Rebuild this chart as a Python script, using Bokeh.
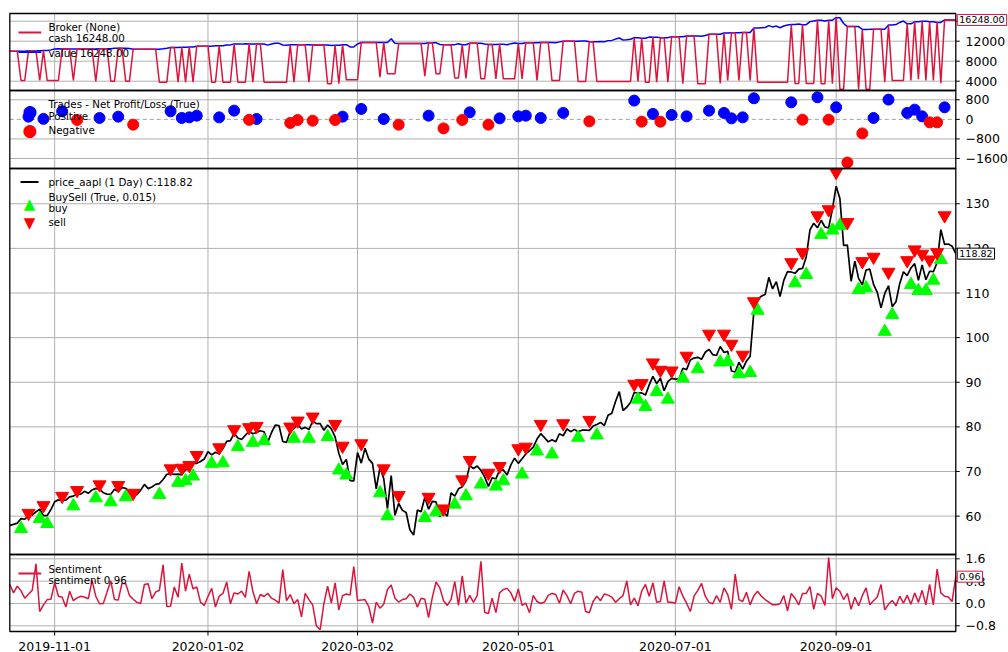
import numpy as np
from bokeh.plotting import figure
from bokeh.models import Range1d, Label, BoxAnnotation
from bokeh.core.properties import value
from bokeh.embed import file_html
from bokeh.resources import INLINE

FONT = "DejaVu Sans"
CRIMSON = "#dc143c"
GRID = "#b0b0b0"

# ---------------- data ----------------
tick_idx = [12, 53, 93, 136, 178, 221]
tick_labels = ["2019-11-01", "2020-01-02", "2020-03-02", "2020-05-01", "2020-07-01", "2020-09-01"]

close = [57.92, 58.14, 58.42, 59.44, 59.30, 60.10, 60.20, 60.94, 61.54, 60.12, 60.12, 61.47, 63.22, 63.64, 63.54, 63.57,
         64.30, 64.48, 64.99, 64.93, 65.55, 65.10, 65.87, 66.21, 66.00, 65.24,
         64.94, 64.89, 66.02, 65.50, 66.39, 66.24, 65.47, 64.30, 64.88, 65.83,
         67.10, 66.16, 66.54, 67.11, 67.29, 68.20, 69.37, 69.50, 69.34, 69.41,
         69.26, 70.39, 70.46, 71.86, 71.83, 72.26, 72.78,
         74.45, 73.72, 74.31, 73.96, 75.15, 76.75, 76.92, 78.56, 77.50, 77.16,
         78.13, 79.00, 78.46, 78.75, 79.13, 78.90, 76.58, 78.74, 80.38, 80.28,
         76.72, 76.51, 79.03, 79.67, 80.60,
         79.51, 79.89, 79.40, 81.29, 80.72, 80.74, 79.25, 80.40, 79.57, 77.77,
         74.08, 71.57, 72.71, 67.96, 67.92, 74.24, 71.88, 75.21, 72.78, 71.81,
         66.13, 70.89, 68.43, 61.67, 69.06, 60.17, 62.83, 61.29, 60.82, 56.95,
         55.74, 61.34, 61.00, 64.21, 61.56, 63.30, 63.18, 59.86, 60.85, 59.98,
         65.21, 64.46, 66.11, 66.58, 67.89, 71.31, 70.67, 71.23, 70.26, 68.80,
         66.67, 68.60, 68.33, 70.30, 70.35, 69.21, 71.48, 72.99, 71.82, 72.84,
         73.93, 74.69, 75.46,
         77.26, 78.47, 77.58, 76.64, 77.12, 76.66, 78.46, 78.01, 79.53, 78.93,
         79.44, 78.90, 79.25, 79.28, 79.21, 80.18, 80.55, 81.00, 80.30, 82.59,
         83.07, 85.69, 87.90, 83.67, 84.40, 85.45, 87.71, 87.59, 87.62, 87.12,
         89.40, 91.31, 89.69, 90.89, 88.10, 90.13, 90.88, 90.71, 90.71, 93.13,
         92.84, 95.00, 95.41, 95.58, 95.14, 96.72, 97.38, 96.18, 95.99, 98.01,
         96.66, 96.93, 92.52, 92.29, 94.48, 92.92, 94.71, 95.85, 105.89, 108.56,
         109.28, 109.67, 113.50,
         110.92, 112.54, 109.19, 112.82, 114.81, 114.71, 114.41, 115.36, 115.51, 118.08,
         124.16, 125.64, 124.61, 126.30, 124.79, 124.60, 128.82, 133.95, 131.17, 120.67,
         120.75, 112.63, 117.12, 113.29, 111.81, 115.16, 115.34, 111.94, 110.15, 106.66,
         109.89, 111.62, 106.94, 108.03, 112.09, 114.76, 113.89, 115.61, 116.59, 112.83,
         116.30, 112.97, 114.88, 114.77, 116.77, 124.19, 120.89, 120.98, 120.50, 118.82]

sentiment = [0.68, 0.38, 0.62, 0.45, 0.19, 0.33, 0.47, 1.42, -0.29, -0.05,
             0.14, 0.15, 0.74, 0.26, 0.22, -0.13, 0.44, 0.10, 0.20, 0.26,
             0.22, 0.17, 0.83, 0.26, -0.01, 0.00, 0.40, 0.81, 0.14, 0.12,
             0.72, 0.71, 0.29, 0.15, 0.04, 0.00, 0.68, 0.71, 0.17, 0.41,
             0.47, 1.38, -0.11, -0.10, 0.59, 0.22, 1.45, 0.44, 1.05, 0.52,
             0.59, 0.05, -0.07, 0.25, 0.54, -0.13, 0.26, 0.36, 0.77, -0.01,
             0.38, 0.34, 0.44, 0.22, 1.15, 0.44, -0.01, 0.32, 0.25, 0.36,
             0.19, 0.12, 0.01, 1.21, 0.10, 0.32, -0.01, 0.14, -0.48, 0.36,
             0.14, -0.05, -0.81, -0.94, -0.01, 0.62, 0.01, 0.74, -0.23,
             0.28, 0.34, 0.30, 1.32, 0.11, 0.12, 0.14, -0.11, -0.70, 0.05,
             -0.17, -0.03, 0.50, 0.66, 0.19, 0.05, 0.14, 0.17, 0.34, 0.22,
             -0.13, 0.19, 0.15, -0.51, 0.22, 0.77, 0.56, 0.10, -0.07, 0.14,
             0.78, -0.07, 0.99, 0.01, 0.29, 0.04, 0.28, 1.51, -0.32, -0.36,
             0.19, -0.33, 0.38, 0.50, 0.54, 0.38, 0.07, 0.52, -0.07, 0.01,
             -0.33, 0.29, 0.07, 0.00, 0.05, 0.29, 0.36, 0.32, 0.01, 0.48,
             0.28, -0.01, 0.36, 0.44, 0.40, -0.29, -0.33, 0.07, 0.26, 0.10,
             0.34, 0.30, 0.23, 0.04, 0.17, 0.28, 0.81, -0.05, 0.19, -0.08,
             0.44, 0.68, 0.26, 0.74, 0.04, 0.07, 0.81,
             0.04, 0.04, 0.01, 0.60, 0.26, 0.01, -0.29, 0.26, 0.47, 0.72,
             0.26, 0.04, -0.01, 0.28, 0.04, 0.56, 0.32, -0.21, 1.05, 0.14,
             0.07, 0.40, -0.05, 0.28, 0.44, 0.26, 0.14, 0.05, -0.05, -0.05,
             -0.01, 0.28, -0.26, 0.36, 0.19, -0.05, 0.36, 0.36, 0.60, -0.21,
             0.36, 0.26, -0.07, 1.64, 0.17, 0.56, 0.44, 0.14, 0.36, -0.21,
             0.22, -0.08, 0.28, 0.56, -0.05, 0.10, 0.23, 0.68, -0.23, -0.03,
             0.11, -0.08, 0.26, 0.01, 0.29, -0.03, 0.38, 0.04, 0.47, -0.05,
             0.68, -0.05, 1.23, 0.38, 0.26, 0.23, 0.07, 0.96]

buy_idx = [3, 8, 10, 17, 23, 27, 31, 40, 45, 47, 49, 54, 57, 61, 65, 68, 76, 80, 85, 88,
           90, 99, 101, 111, 114, 119, 122, 126, 130, 132, 137, 141, 145, 152, 157, 168, 170, 173, 176, 180,
           184, 190, 192, 195, 198, 200, 210, 213, 217, 220, 222, 227, 229, 234, 236, 241, 243, 245, 247, 249]
buy_mark = [57.17, 59.42, 58.29, 62.25, 64.04, 63.15, 64.27, 64.81, 67.51, 67.87, 68.92, 71.78, 71.91, 75.51, 76.49,
            76.85, 77.39, 77.39, 77.75, 70.27, 69.15, 65.17, 60.00, 59.64, 60.90, 62.63, 64.49, 67.12, 66.67, 67.87,
            69.37, 74.54, 73.87, 77.62, 78.13, 86.16, 84.49, 87.87, 86.16, 90.88, 92.97, 94.47, 94.61, 91.84, 92.13,
            106.07, 112.22, 114.09, 123.08, 124.04, 125.10, 110.72, 111.10, 101.35, 105.10, 111.84, 110.49, 110.49,
            112.81, 117.46]
sell_idx = [5, 9, 14, 18, 24, 29, 33, 43, 46, 48, 50, 56, 60, 64, 66, 75, 77, 81, 87, 89,
            94, 100, 104, 112, 116, 121, 123, 128, 131, 136, 138, 142, 148, 155, 167, 169, 172, 174, 177, 181,
            187, 191, 193, 196, 199, 209, 212, 216, 219, 221, 224, 228, 231, 235, 240, 242, 244, 246, 248, 250]
sell_mark = [60.67, 62.40, 64.49, 65.78, 67.06, 66.90, 65.17, 70.65, 70.79, 71.39, 73.64, 75.37, 79.42, 79.87, 80.16,
             80.00, 81.35, 82.25, 80.61, 75.73, 76.27, 70.65, 64.65, 64.27, 61.66, 68.18, 72.52, 69.66, 71.17, 75.15,
             75.51, 80.61, 80.76, 81.51, 89.60, 89.75, 94.38, 92.74, 92.58, 95.89, 100.83, 100.83, 98.58, 96.11,
             108.09, 116.85, 119.10, 127.35, 128.70, 137.08, 125.84, 117.08, 118.07, 114.70, 117.30, 119.71, 118.74,
             117.46, 119.10, 127.35]
trade_pnl = [111, 20, 330, -25, 57, 111, -217, 332, 57, 82, 152, 82, 357, -20, 16, -148, -25, -53, -25, 111,
             427, 16, -217, 152, -369, -25, 287, -217, 41, 123, 152, 57, 263, -82, 767, -94, 222, -94, 181, 123,
             357, 263, 41, 82, 862, 697, -12, 903, -12, 492, -1764, -574, 57, 808, 263, 398, 123, -123, -123, 492]
cash_low = [4140, 4140, 4140, 4140, 3940, 4000, 4000, 3800, 3800, 3800, 3800, 3800, 3800, 3800, 3800, 3800, 3800,
            3800, 3480, 3480, 4280, 4800, 5480, 5000, 5480, 4640, 4540, 4470, 4470, 4470, 4470, 4140, 4140, 3940,
            3940, 3940, 3800, 3800, 3800, 3480, 3480, 3540, 4140, 4140, 4140, 3800, 3540, 3540, 3480, 3480, 2380,
            2380, 2380, 3800, 4140, 4140, 4400, 4140, 4140, 3600]
start_cash = 10000.0

broker_ticks = [4000, 8000, 12000, 16000]
broker_labels = ["4000", "8000", "12000", ""]
trades_ticks = [800, 0, -800, -1600]
trades_labels = ["800", "0", "\u2212800", "\u22121600"]
price_ticks = [60, 70, 80, 90, 100, 110, 120, 130]
price_labels = ["60", "70", "80", "90", "100", "110", "120", "130"]
sent_ticks = [1.6, 0.8, 0.0, -0.8]
sent_labels = ["1.6", "0.8", "0.0", "\u22120.8"]

# ---------------- broker (cash / value) from the trades ----------------
n = len(close)
x = list(range(n))
cash = np.zeros(n)
val = np.zeros(n)
level = start_cash
pos = None
k = 0
for i in range(n):
    if pos is not None and i == sell_idx[k]:
        level += trade_pnl[k]
        pos = None
        k += 1
    if pos is None and k < len(buy_idx) and i == buy_idx[k]:
        pos = (cash_low[k], (level - cash_low[k]) / close[i])
    if pos is None:
        cash[i] = level
        val[i] = level
    else:
        cash[i] = pos[0]
        val[i] = pos[0] + pos[1] * close[i]

# ---------------- layout geometry (canvas pixels, y downward) ----------------
W, H = 1008, 652
XEND = n - 1
LEFT_PX, RIGHT_PX = 9.3, 955.3
ppb = (RIGHT_PX - LEFT_PX) / XEND
XS = -LEFT_PX / ppb
XE = XEND + (W - RIGHT_PX) / ppb

panels = {
    #          top  bottom  value@top value@bottom
    "broker": (13, 90, 17540.0, 2140.0),
    "trades": (90, 168, 1180.0, -2009.0),
    "price": (168, 554, 137.9, 51.4),
    "sent": (554, 631, 1.754, -1.004),
}


def full_range(ctop, cbot, dtop, dbot):
    per = (dtop - dbot) / (cbot - ctop)
    return Range1d(dbot - (H - cbot) * per, dtop + ctop * per)


p = figure(width=W, height=H, x_range=Range1d(XS, XE), y_range=Range1d(H, 0),
           output_backend="svg", toolbar_location=None,
           x_axis_location=None, y_axis_location=None,
           min_border_left=0, min_border_right=0, min_border_top=0, min_border_bottom=0)
p.outline_line_color = None
p.background_fill_color = "white"
p.border_fill_color = "white"
p.grid.grid_line_color = None
p.extra_y_ranges = {k_: full_range(*v) for k_, v in panels.items()}

# vertical grid lines through all panels
p.segment(x0=tick_idx, x1=tick_idx, y0=[panels["broker"][0]] * len(tick_idx),
          y1=[panels["sent"][1]] * len(tick_idx), line_color=GRID, line_width=1)


def hgrid(name, ticks):
    p.segment(x0=[0] * len(ticks), x1=[XEND] * len(ticks), y0=ticks, y1=ticks,
              y_range_name=name, line_color=GRID, line_width=1)


def yaxis(name, ticks, labels):
    p.segment(x0=[XEND] * len(ticks), x1=[XEND + 4 / ppb] * len(ticks), y0=ticks, y1=ticks,
              y_range_name=name, line_color="black", line_width=1)
    p.text(x=[XEND + 9.7 / ppb] * len(ticks), y=ticks, text=labels, y_range_name=name,
           text_font=value(FONT), text_font_size="12.5px", text_color="black",
           text_baseline="middle", text_align="left")


def spines(name):
    top, bot, dtop, dbot = panels[name]
    p.add_layout(BoxAnnotation(left=0, right=XEND, top=dtop, bottom=dbot, y_range_name=name,
                               fill_alpha=0, fill_color=None, line_color="black",
                               line_alpha=1, line_width=1.3))


def txt(cx, cy, text, color="black", size="10.3px", align="left"):
    p.add_layout(Label(x=cx, y=H - cy, x_units="screen", y_units="screen", text=text,
                       text_font=FONT, text_font_size=size, text_color=color,
                       text_baseline="middle", text_align=align))


def swatch(cy, color, x0=18, x1=40.7, lw=1.8):
    p.add_layout(BoxAnnotation(left=x0, right=x1, top=H - cy + lw / 2, bottom=H - cy - lw / 2,
                               left_units="screen", right_units="screen",
                               top_units="screen", bottom_units="screen",
                               fill_color=color, fill_alpha=1, line_alpha=0))


def lastbox(name, yv, text, color):
    p.add_layout(Label(x=XEND + 1.5 / ppb, y=yv, y_range_name=name, text=text,
                       text_font=FONT, text_font_size="9.5px", text_color="black",
                       text_baseline="middle", text_align="left",
                       background_fill_color="white", border_line_color=color,
                       border_line_width=1, padding=2))


# --- grids ---
hgrid("broker", broker_ticks)
hgrid("trades", [t for t in trades_ticks if t != 0])
hgrid("price", price_ticks)
hgrid("sent", sent_ticks)
p.segment(x0=[0], x1=[XEND], y0=[0], y1=[0], y_range_name="trades",
          line_color="#a0a0a0", line_dash="4 3", line_width=1)

# --- Broker panel ---
p.line(x, val, y_range_name="broker", line_color="blue", line_width=1.5)
p.line(x, cash, y_range_name="broker", line_color=CRIMSON, line_width=1.5)

# --- Trades panel ---
pos_x = [s for s, v in zip(sell_idx, trade_pnl) if v >= 0]
pos_y = [v for v in trade_pnl if v >= 0]
neg_x = [s for s, v in zip(sell_idx, trade_pnl) if v < 0]
neg_y = [v for v in trade_pnl if v < 0]
p.scatter(pos_x, pos_y, y_range_name="trades", marker="circle", size=11, fill_color="blue", line_color="blue")
p.scatter(neg_x, neg_y, y_range_name="trades", marker="circle", size=11, fill_color="red", line_color="red")

# --- Price panel ---
p.line(x, close, y_range_name="price", line_color="black", line_width=1.7)
p.scatter(buy_idx, buy_mark, y_range_name="price", marker="triangle", size=13,
          fill_color="#00ff00", line_color="#00ff00")
p.scatter(sell_idx, sell_mark, y_range_name="price", marker="inverted_triangle", size=13,
          fill_color="red", line_color="red")

# --- Sentiment panel ---
p.line(x, sentiment, y_range_name="sent", line_color=CRIMSON, line_width=1.5)

# --- axes (right side) ---
yaxis("broker", broker_ticks, broker_labels)
yaxis("trades", trades_ticks, trades_labels)
yaxis("price", price_ticks, price_labels)
yaxis("sent", sent_ticks, sent_labels)

# --- x axis (bottom) ---
sb = panels["sent"][1]
p.segment(x0=tick_idx, x1=tick_idx, y0=[sb] * len(tick_idx), y1=[sb + 4] * len(tick_idx),
          line_color="black", line_width=1)
p.text(x=tick_idx, y=[sb + 14.5] * len(tick_idx), text=tick_labels,
       text_font=value(FONT), text_font_size="12.5px", text_color="black",
       text_baseline="middle", text_align="center")

for name in panels:
    spines(name)

# --- legends ---
txt(48, 26, "Broker (None)")
txt(48, 37.7, "cash %.2f" % cash[-1])
txt(48, 52, "value %.2f" % val[-1])
swatch(32, CRIMSON)
swatch(51.7, "blue")

txt(48, 103.7, "Trades - Net Profit/Loss (True)")
txt(48, 115.7, "Positive")
txt(48, 129.3, "Negative")
txt(29.3, 110, "\u25cf", color="blue", size="17px", align="center")
txt(29.3, 129.3, "\u25cf", color="red", size="17px", align="center")

swatch(181.5, "black", x0=20, x1=38)
txt(48, 181, "price_aapl (1 Day) C:%.2f" % close[-1])
txt(48, 196, "BuySell (True, 0.015)")
txt(48, 207.5, "buy")
txt(48, 221.7, "sell")
txt(29, 203, "\u25b2", color="#00ff00", size="15px", align="center")
txt(29, 222, "\u25bc", color="red", size="15px", align="center")

txt(48, 568, "Sentiment")
txt(48, 579, "sentiment %.2f" % sentiment[-1])
swatch(573, CRIMSON)

# --- last value boxes ---
lastbox("broker", cash[-1], "%.2f" % cash[-1], CRIMSON)
lastbox("price", close[-1], "%.2f" % close[-1], "black")
lastbox("sent", sentiment[-1], "%.2f" % sentiment[-1], CRIMSON)

open("out.html", "w").write(file_html(p, INLINE))
